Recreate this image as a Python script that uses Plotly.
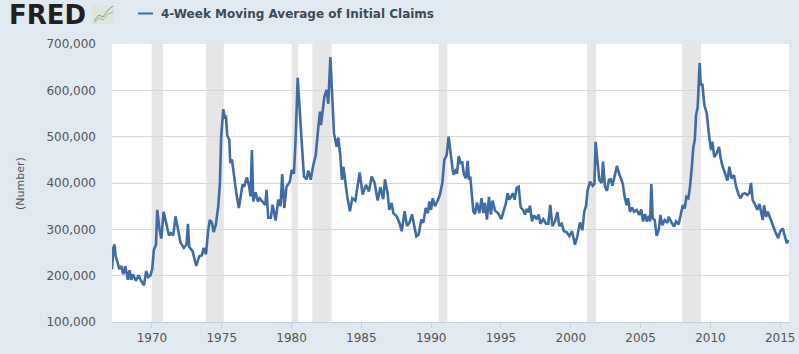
import plotly.graph_objects as go

SERIES_NAME = "4-Week Moving Average of Initial Claims"
Y_TITLE = "(Number)"
X_TICKS = [1970, 1975, 1980, 1985, 1990, 1995, 2000, 2005, 2010, 2015]
Y_TICKS = [100000, 200000, 300000, 400000, 500000, 600000, 700000]

years_1967_1979 = [1967.14,1967.23,1967.33,1967.40,1967.52,1967.66,1967.80,1967.95,1968.09,1968.28,1968.40,1968.52,1968.64,1968.85,1969.05,1969.19,1969.43,1969.59,1969.74,1969.90,1970.02,1970.14,1970.29,1970.38,1970.53,1970.67,1970.84,1971.00,1971.22,1971.36,1971.53,1971.69,1971.86,1972.05,1972.29,1972.48,1972.58,1972.67,1972.91,1973.17,1973.39,1973.58,1973.70,1973.87,1974.03,1974.15,1974.30,1974.42,1974.58,1974.75,1974.87,1974.96,1975.11,1975.23,1975.30,1975.39,1975.54,1975.61,1975.73,1975.87,1976.06,1976.23,1976.35,1976.49,1976.61,1976.80,1976.97,1977.06,1977.16,1977.26,1977.42,1977.59,1977.71,1977.92,1978.12,1978.21,1978.33,1978.52,1978.64,1978.86,1979.05,1979.21,1979.33,1979.48,1979.64,1979.88]
claims_1967_1979 = [214,260,267,242,231,214,221,203,221,191,212,191,203,189,201,191,179,210,197,201,214,256,267,342,303,280,338,317,287,292,287,328,299,271,260,267,312,262,253,221,242,244,260,246,299,320,314,294,310,350,400,500,559,539,546,503,493,443,451,414,375,346,375,397,392,412,392,371,471,360,380,360,367,360,353,385,325,325,353,319,364,350,419,346,392,403]

years_1980_1991 = [1980.01,1980.17,1980.29,1980.44,1980.60,1980.75,1980.89,1981.08,1981.20,1981.37,1981.56,1981.73,1981.92,1982.04,1982.11,1982.23,1982.35,1982.51,1982.63,1982.78,1982.90,1983.04,1983.23,1983.35,1983.49,1983.61,1983.71,1983.83,1983.99,1984.18,1984.35,1984.57,1984.71,1984.88,1985.09,1985.33,1985.55,1985.74,1985.95,1986.17,1986.36,1986.57,1986.69,1986.88,1987.00,1987.17,1987.29,1987.53,1987.72,1987.89,1988.10,1988.27,1988.44,1988.63,1988.79,1988.94,1989.10,1989.30,1989.44,1989.61,1989.77,1989.87,1989.99,1990.11,1990.27,1990.44,1990.63,1990.80,1990.94,1991.11]
claims_1980_1991 = [428,420,493,627,561,478,414,408,427,407,439,460,521,554,525,550,586,601,571,672,600,507,478,498,460,407,435,403,371,339,367,362,392,423,375,396,382,414,400,362,391,365,408,378,342,357,335,328,315,296,339,307,314,332,307,285,289,321,314,346,335,360,342,367,350,360,375,400,450,460]

years_1991_2003 = [1991.25,1991.39,1991.54,1991.61,1991.78,1991.85,1991.97,1992.11,1992.23,1992.35,1992.49,1992.61,1992.71,1992.80,1992.90,1993.02,1993.14,1993.28,1993.45,1993.61,1993.73,1993.85,1994.00,1994.14,1994.28,1994.40,1994.57,1994.81,1995.02,1995.21,1995.36,1995.48,1995.60,1995.72,1995.84,1995.98,1996.12,1996.27,1996.41,1996.60,1996.72,1996.84,1996.96,1997.08,1997.22,1997.36,1997.56,1997.70,1997.82,1998.03,1998.22,1998.39,1998.53,1998.68,1998.87,1999.04,1999.18,1999.35,1999.51,1999.70,1999.90,2000.09,2000.30,2000.47,2000.66,2000.83,2000.97,2001.09,2001.21,2001.38,2001.57,2001.69,2001.78,2001.90,2002.04,2002.21,2002.31,2002.45,2002.59,2002.74,2002.86,2002.98,2003.10,2003.19,2003.31]
claims_1991_2003 = [500,460,428,418,430,420,458,443,444,418,410,448,407,414,375,339,333,358,335,367,335,357,321,370,332,362,341,334,322,342,357,378,364,370,378,364,389,392,348,341,332,344,337,351,317,330,322,332,312,322,312,312,353,307,317,337,307,312,296,294,285,296,267,285,315,298,339,350,385,403,394,398,489,450,407,400,446,392,383,407,408,394,410,421,437]

years_2003_2015 = [2003.45,2003.60,2003.72,2003.86,2004.00,2004.10,2004.24,2004.39,2004.53,2004.72,2004.91,2005.05,2005.17,2005.32,2005.44,2005.58,2005.68,2005.77,2005.87,2006.01,2006.15,2006.30,2006.42,2006.56,2006.73,2006.92,2007.01,2007.18,2007.39,2007.54,2007.73,2007.87,2008.02,2008.16,2008.28,2008.42,2008.54,2008.66,2008.78,2008.88,2008.97,2009.09,2009.16,2009.23,2009.31,2009.42,2009.57,2009.74,2009.90,2010.05,2010.14,2010.28,2010.45,2010.62,2010.74,2010.88,2011.05,2011.22,2011.36,2011.50,2011.69,2011.84,2012.03,2012.17,2012.31,2012.48,2012.65,2012.79,2012.91,2013.03,2013.22,2013.36,2013.51,2013.63,2013.75,2013.84,2013.99,2014.11,2014.27,2014.46,2014.65,2014.85,2014.99,2015.18,2015.35,2015.47,2015.61]
claims_2003_2015 = [421,410,399,370,352,367,338,347,338,342,331,343,317,333,317,329,317,398,324,320,286,299,331,309,320,314,327,317,306,317,311,331,352,345,370,367,392,431,478,492,546,564,622,659,611,614,568,550,503,471,489,456,464,478,453,435,421,405,435,410,417,392,374,367,376,378,374,378,400,363,352,342,355,334,320,352,327,338,324,309,295,281,295,302,281,270,277]

recession_starts = [1969.98, 1973.87, 1980.00, 1981.49, 1990.54, 2001.16, 2007.97]
recession_ends = [1970.80, 1975.15, 1980.48, 1982.87, 1991.16, 2001.81, 2009.33]

years = years_1967_1979 + years_1980_1991 + years_1991_2003 + years_2003_2015
claims = [v * 1000 for v in claims_1967_1979 + claims_1980_1991 + claims_1991_2003 + claims_2003_2015]

W, H = 799, 354
L, R, T, B = 112, 10, 44, 32
BG = "#e1e9f0"
LINE = "#3f6ca5"


def px(x):
    return (x - L) / (W - L - R)


def py(y):
    return 1 - (y - T) / (H - T - B)


shapes = [
    dict(type="rect", xref="x", yref="paper", x0=a, x1=b, y0=0, y1=1,
         fillcolor="#e6e6e6", line_width=0, layer="below")
    for a, b in zip(recession_starts, recession_ends)
]
shapes.append(dict(type="line", xref="paper", yref="paper", x0=px(138), x1=px(153), y0=py(13.5), y1=py(13.5),
                   line=dict(color=LINE, width=2)))
shapes.append(dict(type="rect", xref="paper", yref="paper", x0=px(92), x1=px(114), y0=py(24), y1=py(5),
                   fillcolor="#dfe5dd", line_width=0))
for pts, col in [([(94, 21), (99, 15), (103, 17), (108, 10), (113, 6)], "#8a9a85"),
                 ([(94, 23), (99, 18), (103, 20), (108, 14), (113, 12)], "#a8b6a0")]:
    for (a, b), (c, d) in zip(pts, pts[1:]):
        shapes.append(dict(type="line", xref="paper", yref="paper", x0=px(a), x1=px(c), y0=py(b), y1=py(d),
                           line=dict(color=col, width=1)))

fig = go.Figure(go.Scatter(x=years, y=claims, mode="lines", name=SERIES_NAME,
                           line=dict(color=LINE, width=2.6), showlegend=False, hoverinfo="skip"))

annotations = [
    dict(text="<b>FRED</b>", xref="paper", yref="paper", x=px(7), y=py(14.5), xanchor="left", yanchor="middle",
         showarrow=False, font=dict(family="DejaVu Sans", size=26, color="#231f20")),
    dict(text="<b>" + SERIES_NAME + "</b>", xref="paper", yref="paper", x=px(158.5), y=py(13.5), xanchor="left",
         yanchor="middle", showarrow=False, font=dict(family="DejaVu Sans", size=12, color="#3e4a55")),
    dict(text=Y_TITLE, xref="paper", yref="paper", x=px(20), y=py(183), xanchor="center", yanchor="middle",
         textangle=-90, showarrow=False, font=dict(family="DejaVu Sans", size=11, color="#555555")),
]

fig.update_layout(
    width=W, height=H,
    margin=dict(l=L, r=R, t=T, b=B, pad=0),
    paper_bgcolor=BG, plot_bgcolor="#ffffff",
    shapes=shapes, annotations=annotations,
    xaxis=dict(range=[1967.14, 2015.63], automargin=False, tickvals=X_TICKS, ticktext=[str(t) for t in X_TICKS],
               showgrid=False, zeroline=False, ticks="outside", ticklen=5, tickcolor="#c0d0e0",
               showline=True, linecolor="#c0d0e0", linewidth=1,
               tickfont=dict(family="DejaVu Sans", size=12, color="#555555")),
    yaxis=dict(range=[100000, 700000], automargin=False, tickvals=Y_TICKS, tickformat=",", showgrid=True,
               gridcolor="#d8d8d8", gridwidth=1, zeroline=False, ticks="", ticklabelstandoff=15,
               tickfont=dict(family="DejaVu Sans", size=12, color="#555555")),
)

fig.write_html("out.html", config=dict(displayModeBar=False),
               post_script="document.body.style.margin='0';document.documentElement.style.overflow='hidden';")
